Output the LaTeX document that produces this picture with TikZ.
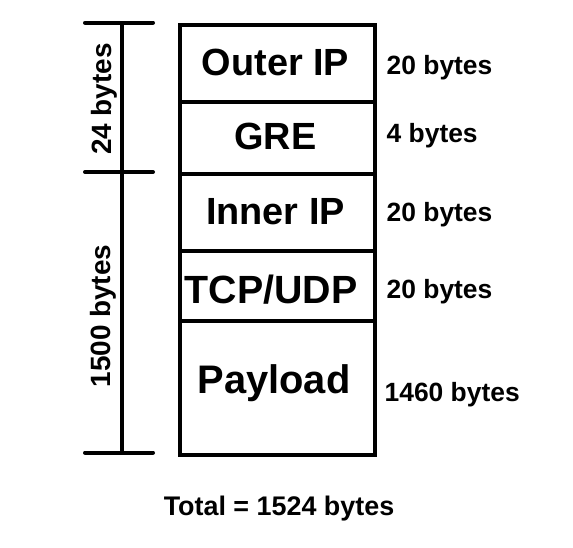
\documentclass[tikz,border=0pt]{standalone}
\usepackage{fontspec}
\setmainfont{Liberation Sans}
\tikzset{
  seg/.style={draw, line width=4bp, minimum width=195bp, inner sep=0pt, anchor=north west},
  big/.style={font=\fontsize{38}{40}\selectfont\bfseries, anchor=base, inner sep=0pt},
  side/.style={font=\fontsize{26.5}{28}\selectfont\bfseries, anchor=base west, inner sep=0pt},
  vlab/.style={font=\fontsize{28}{30}\selectfont\bfseries, anchor=base, rotate=90, inner sep=0pt},
  tick/.style={line width=4bp, line cap=round},
  bar/.style={line width=4bp}
}
\begin{document}
\begin{tikzpicture}[x=1bp,y=-1bp]
\useasboundingbox (0,0) rectangle (573,548);
% segments
\node[seg, minimum height=77.3bp] (outer) at (178,22.7) {};
\node[seg, minimum height=72bp] (gre) at (178,100) {};
\node[seg, minimum height=77bp] (inner) at (178,172) {};
\node[seg, minimum height=70bp] (tcp) at (178,249) {};
\node[seg, minimum height=133.5bp] (pay) at (178,319) {};
% labels in boxes
\node[big] (touter) at (275.5,76) {Outer IP};
\node[big] (tgre) at (275.5,149.3) {GRE};
\node[big] (tinner) at (275.5,225) {Inner IP};
\node[big, font=\fontsize{39.5}{41}\selectfont\bfseries] (ttcp) at (271,303) {TCP/UDP};
\node[big, font=\fontsize{40}{42}\selectfont\bfseries] (tpay) at (274,393.3) {Payload};
% side labels
\node[side] (s1) at (386.5,75) {20 bytes};
\node[side] (s2) at (386.5,143) {4 bytes};
\node[side] (s3) at (386.5,221.7) {20 bytes};
\node[side] (s4) at (386.5,298) {20 bytes};
\node[side] (s5) at (384.5,401) {1460 bytes};
% dimension bar
\coordinate (t0l) at (85,22.7);
\coordinate (t0r) at (153,22.7);
\coordinate (t1l) at (85,172);
\coordinate (t1r) at (153,172);
\coordinate (t2l) at (85,452.5);
\coordinate (t2r) at (153,452.5);
\coordinate (vtop) at (121.7,22.7);
\coordinate (vbot) at (121.7,452.5);
\draw[tick] (t0l) -- (t0r);
\draw[tick] (t1l) -- (t1r);
\draw[tick] (t2l) -- (t2r);
\draw[bar] (vtop) -- (vbot);
\node[vlab] (v24) at (111.5,99) {24 bytes};
\node[vlab] (v1500) at (110,316) {1500 bytes};
% total
\node[font=\fontsize{27}{29}\selectfont\bfseries, anchor=base, inner sep=0pt] (total) at (279,515) {Total = 1524 bytes};
\end{tikzpicture}
\end{document}
